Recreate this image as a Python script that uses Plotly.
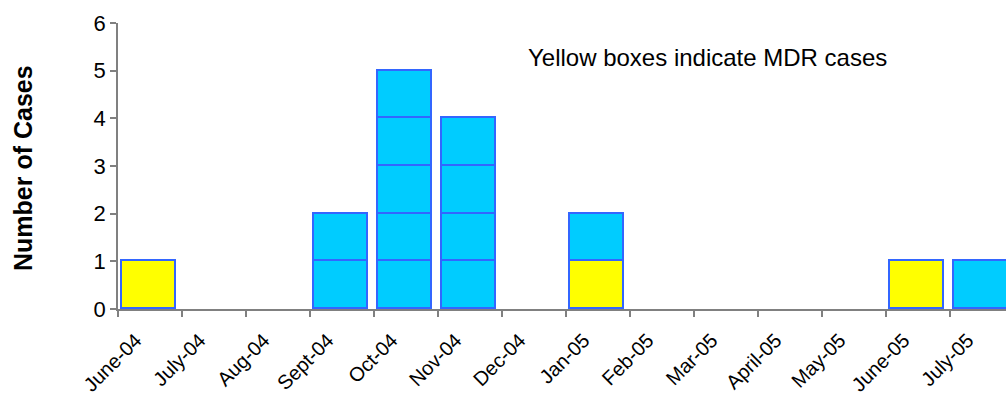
import plotly.graph_objects as go

months = ["June-04", "July-04", "Aug-04", "Sept-04", "Oct-04", "Nov-04", "Dec-04",
          "Jan-05", "Feb-05", "Mar-05", "April-05", "May-05", "June-05", "July-05"]
mdr_cases = [1, 0, 0, 0, 0, 0, 0, 1, 0, 0, 0, 0, 1, 0]
other_cases = [0, 0, 0, 2, 5, 4, 0, 1, 0, 0, 0, 0, 0, 1]
y_ticks = [0, 1, 2, 3, 4, 5, 6]

FONT = "Liberation Sans, Arial, sans-serif"
EDGE = "#3366FF"
YELLOW = "#FFFF00"
CYAN = "#00CCFF"
AXIS = "#808080"

n = len(months)
x_pos = [i + 0.48 for i in range(n)]

fig = go.Figure()

def add_layers(counts, color):
    for k in range(max(counts)):
        ys = [1 if c > k else None for c in counts]
        fig.add_trace(go.Bar(
            x=x_pos, y=ys, width=0.85,
            marker=dict(color=color, line=dict(color=EDGE, width=1.8)),
            showlegend=False, hoverinfo="skip",
        ))

add_layers(mdr_cases, YELLOW)
add_layers(other_cases, CYAN)

fig.add_annotation(
    text="Yellow boxes indicate MDR cases",
    xref="paper", yref="paper", x=0.664, y=0.881,
    showarrow=False, xanchor="center", yanchor="middle",
    font=dict(family=FONT, size=24, color="black"),
)
fig.add_annotation(
    text="<b>Number of Cases</b>", textangle=-90,
    xref="paper", yref="paper", x=-0.107, y=0.493,
    showarrow=False, xanchor="center", yanchor="middle",
    font=dict(family=FONT, size=25, color="black"),
)

fig.update_layout(
    width=1006, height=398,
    margin=dict(l=118, r=0, t=23, b=89, autoexpand=False),
    paper_bgcolor="white", plot_bgcolor="white",
    barmode="stack", bargap=0,
    font=dict(family=FONT, size=16, color="black"),
)

fig.update_xaxes(
    range=[0, 13.875], automargin=False,
    tickmode="array", tickvals=[i + 0.28 for i in range(n)], ticktext=months,
    tickangle=-45, ticks="", ticklabelstandoff=10,
    minor=dict(tickmode="array", tickvals=list(range(n)), ticks="outside",
               ticklen=6, tickcolor=AXIS, tickwidth=1.5, showgrid=False),
    showline=True, linecolor=AXIS, linewidth=1.5,
    showgrid=False, zeroline=False,
    tickfont=dict(family=FONT, size=20, color="black"),
)

fig.update_yaxes(
    range=[0, 6], automargin=False, tickmode="array", tickvals=y_ticks,
    ticktext=[str(v) for v in y_ticks],
    ticks="outside", ticklen=6, tickcolor=AXIS, tickwidth=1.5,
    showline=True, linecolor=AXIS, linewidth=1.5,
    showgrid=False, zeroline=False,
    tickfont=dict(family=FONT, size=22, color="black"),
)

fig.write_html("out.html")
